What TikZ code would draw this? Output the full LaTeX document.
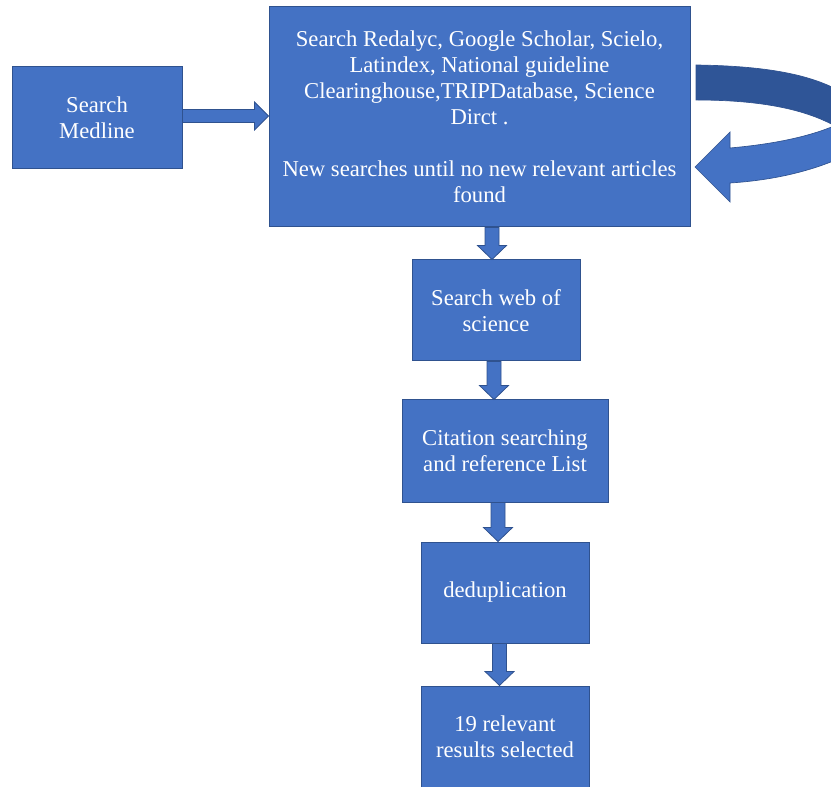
\documentclass[tikz,border=0pt]{standalone}
\usepackage{fontspec}
\setmainfont{Liberation Serif}
\usetikzlibrary{calc}
\definecolor{boxfill}{HTML}{4472C4}
\definecolor{boxline}{HTML}{2F528F}
\definecolor{darkband}{HTML}{2F5597}
\tikzset{
  box/.style={rectangle, fill=boxfill, draw=boxline, line width=0.75pt, text=white,
    align=center, inner sep=2pt, font=\fontsize{17}{19.5}\selectfont},
  blk/.style={fill=boxfill, draw=boxline, line width=0.6pt, line join=miter},
}
\newcommand\blkdown[3]{%
  \filldraw[blk] (#3-7,0 |- #1.south) -- (#3+7,0 |- #1.south)
    -- ($(#3+7,0 |- #2.north)+(0,-14)$) -- ($(#3+14.5,0 |- #2.north)+(0,-14)$)
    -- (#3,0 |- #2.north) -- ($(#3-14.5,0 |- #2.north)+(0,-14)$)
    -- ($(#3-7,0 |- #2.north)+(0,-14)$) -- cycle;}
\begin{document}
\begin{tikzpicture}[x=0.75pt,y=-0.75pt]
\useasboundingbox (0,0) rectangle (831,787);
\clip (0,0) rectangle (831,787);
% nodes
\node[box, minimum width=127.5pt, minimum height=76.5pt] (medline) at (97,118) {Search\\Medline};
\node[box, minimum width=315.75pt, minimum height=165pt] (big) at (479.5,117)
  {Search Redalyc, Google Scholar, Scielo,\\Latindex, National guideline\\Clearinghouse,TRIPDatabase, Science\\Dirct .\\[19.5pt]New searches until no new relevant articles\\found};
\node[box, minimum width=126pt, minimum height=75.75pt] (web) at (496,310.5) {Search web of\\science};
\node[box, minimum width=154.5pt, minimum height=76.5pt] (cit) at (505,451) {Citation searching\\and reference List};
\node[box, minimum width=126pt, minimum height=75.75pt] (dedup) at (505,592.5) {deduplication};
\node[box, minimum width=126pt, minimum height=75.75pt] (sel) at (505,736.5) {19 relevant\\results selected};
% right block arrow
\filldraw[blk] (medline.east |- 0,109.5) -- ($(big.west |- 0,109.5)+(-14,0)$)
  -- ($(big.west |- 0,102)+(-14,0)$) -- (big.west |- 0,116)
  -- ($(big.west |- 0,130)+(-14,0)$) -- ($(big.west |- 0,122.5)+(-14,0)$)
  -- (medline.east |- 0,122.5) -- cycle;
% down block arrows
\blkdown{big}{web}{492}
\blkdown{web}{cit}{494}
\blkdown{cit}{dedup}{498}
\blkdown{dedup}{sel}{499.5}
% curved return arrow
\filldraw[fill=darkband, draw=boxline, line width=0.5pt]
  (696,65) .. controls (765,66) and (812,74) .. (845,94)
  -- (845,132) .. controls (815,112) and (770,100) .. (696,100) -- cycle;
\filldraw[fill=boxfill, draw=boxline, line width=0.5pt]
  (695,167) -- (730,132) -- (730,148)
  .. controls (775,144) and (815,136) .. (845,121)
  -- (845,156) .. controls (812,171) and (775,180) .. (730,183)
  -- (730,202) -- cycle;
\end{tikzpicture}
\end{document}
